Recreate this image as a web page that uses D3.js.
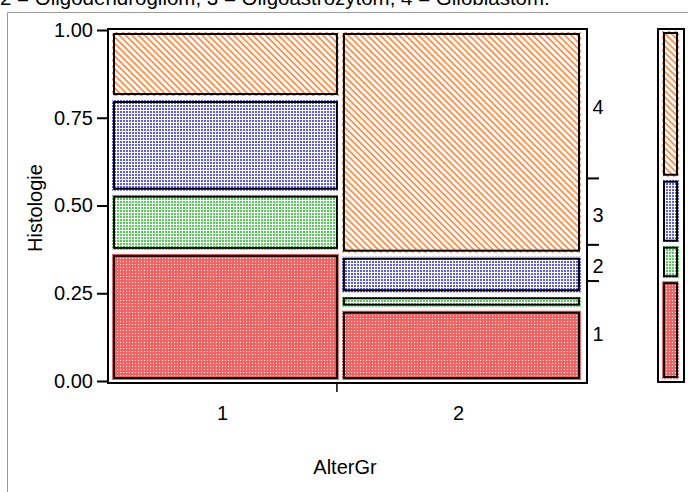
<!DOCTYPE html>
<html><head><meta charset="utf-8">
<script src="https://cdn.jsdelivr.net/npm/d3@7"></script>
<style>
body{margin:0;background:#fff}
svg{display:block}
text{font-family:"Liberation Sans",Arial,sans-serif;fill:#000}
</style>
</head><body>
<svg id="chart" width="688" height="492"></svg>
<script>
// Mosaic plot: Histologie within AlterGr (counts per cell)
const subtitle = "2 = Oligodendrogliom, 3 = Oligoastrozytom, 4 = Glioblastom.";
const ageGroups = ["1", "2"];
const histologyCodes = ["1", "2", "3", "4"];
const countsAge1 = [14, 6, 10, 7];
const countsAge2 = [8, 1, 4, 26];
const yTickValues = [0, 0.25, 0.5, 0.75, 1];
const xTitle = "AlterGr";
const yTitle = "Histologie";

const columns = [countsAge1, countsAge2];
// base colour under each fill pattern, and the pattern drawn over it
const baseColors = ["#f46262", "#ffffff", "#ffffff", "#ffffff"];
const patternIds = ["texRed", "texGreen", "texBlue", "texOrange"];
const FS = 20;

const svg = d3.select("#chart");

// ---- fill patterns (transparent background, drawn over the base colour) ----
const defs = svg.append("defs");
function dotPattern(id, size, fg, dots, dot) {
  const p = defs.append("pattern").attr("id", id).attr("patternUnits", "userSpaceOnUse")
    .attr("width", size).attr("height", size);
  dots.forEach(([x, y]) => p.append("rect").attr("x", x).attr("y", y)
    .attr("width", dot).attr("height", dot).attr("fill", fg));
}
dotPattern("texRed", 3, "#ffffff", [[0, 0]], 1);
dotPattern("texGreen", 3, "#4fd24f", [[0, 0]], 2);
dotPattern("texBlue", 3, "#5c5cf2", [[0, 0]], 2);
const po = defs.append("pattern").attr("id", "texOrange").attr("patternUnits", "userSpaceOnUse")
  .attr("width", 4.5).attr("height", 4.5).attr("patternTransform", "rotate(-45)");
po.append("rect").attr("width", 1.8).attr("height", 4.5).attr("fill", "#ff9048");

// ---- outer panel border ----
svg.append("path").attr("d", "M7.5,492 V12.5 H688").attr("fill", "none")
  .attr("stroke", "#9a9a9a").attr("stroke-width", 1);

// ---- subtitle (partly above the panel) ----
svg.append("text").attr("x", 0).attr("y", 5).attr("font-size", 20.5).text(subtitle);

// ---- geometry ----
const frame = {left: 108, right: 587, top: 29, bottom: 383};
const tileLeft = 113, tileRight = 580, tileTop = 33, tileBottom = 379;
const hGap = 5, vGap = 6;
const total = d3.sum(columns, c => d3.sum(c));
const colTotals = columns.map(c => d3.sum(c));

const xScale = d3.scaleLinear().domain([0, total]).range([tileLeft, tileRight - hGap * (columns.length - 1)]);
const yStack = d3.scaleLinear().domain([0, 1])
  .range([tileBottom, tileTop + vGap * (histologyCodes.length - 1)]);
const yAxisScale = d3.scaleLinear().domain([0, 1]).range([381, 30]);

// ---- tiles ----
const tiles = [];
let colStart = 0;
columns.forEach((counts, ci) => {
  const x0 = xScale(colStart) + ci * hGap;
  const x1 = xScale(colStart + colTotals[ci]) + ci * hGap;
  let cum = 0;
  counts.forEach((v, hi) => {
    const yb = yStack(cum / colTotals[ci]) - hi * vGap;
    cum += v;
    const yt = yStack(cum / colTotals[ci]) - hi * vGap;
    tiles.push({ci, hi, x0, x1, yt, yb});
  });
  colStart += colTotals[ci];
});

function drawTiles(g, data, inset) {
  g.selectAll("rect.base").data(data).join("rect").attr("class", "base")
    .attr("x", d => d.x0 - inset).attr("y", d => d.yt - inset)
    .attr("width", d => d.x1 - d.x0 + 2 * inset).attr("height", d => d.yb - d.yt + 2 * inset)
    .attr("fill", d => baseColors[d.hi]);
  g.selectAll("rect.tex").data(data).join("rect").attr("class", "tex")
    .attr("x", d => d.x0 - inset).attr("y", d => d.yt - inset)
    .attr("width", d => d.x1 - d.x0 + 2 * inset).attr("height", d => d.yb - d.yt + 2 * inset)
    .attr("fill", d => `url(#${patternIds[d.hi]})`);
  g.selectAll("rect.edge").data(data).join("rect").attr("class", "edge")
    .attr("x", d => d.x0 + 1).attr("y", d => d.yt + 1)
    .attr("width", d => d.x1 - d.x0 - 2).attr("height", d => d.yb - d.yt - 2)
    .attr("fill", "none").attr("stroke", "#000").attr("stroke-width", 2);
}
drawTiles(svg.append("g"), tiles, 1);

// ---- frame ----
svg.append("rect").attr("x", frame.left).attr("y", frame.top)
  .attr("width", frame.right - frame.left).attr("height", frame.bottom - frame.top)
  .attr("fill", "none").attr("stroke", "#000").attr("stroke-width", 2);

// ---- left axis ----
const yAxis = d3.axisLeft(yAxisScale).tickValues(yTickValues).tickFormat(d3.format(".2f"))
  .tickSize(11).tickPadding(4);
const gy = svg.append("g").attr("transform", `translate(${frame.left},0)`).call(yAxis);
gy.select(".domain").remove();
gy.selectAll(".tick line").attr("stroke", "#000").attr("stroke-width", 2);
gy.selectAll(".tick text").attr("font-size", FS).attr("font-family", "Liberation Sans, Arial, sans-serif").attr("fill", "#000");

svg.append("text").attr("transform", "translate(42,208) rotate(-90)")
  .attr("text-anchor", "middle").attr("font-size", FS).text(yTitle);

// ---- bottom axis: category labels and the boundary tick ----
const boundaryX = xScale(colTotals[0]) - 1;
svg.append("line").attr("x1", boundaryX).attr("x2", boundaryX)
  .attr("y1", frame.bottom).attr("y2", frame.bottom + 9)
  .attr("stroke", "#000").attr("stroke-width", 1.5);
const colCenters = [];
colStart = 0;
columns.forEach((c, ci) => {
  const x0 = xScale(colStart) + ci * hGap, x1 = xScale(colStart + colTotals[ci]) + ci * hGap;
  colCenters.push((x0 + x1) / 2 - 3);
  colStart += colTotals[ci];
});
svg.selectAll("text.xcat").data(ageGroups).join("text").attr("class", "xcat")
  .attr("x", (d, i) => colCenters[i]).attr("y", 420).attr("text-anchor", "middle")
  .attr("font-size", FS).text(d => d);
svg.append("text").attr("x", 345).attr("y", 474).attr("text-anchor", "middle")
  .attr("font-size", FS).text(xTitle);

// ---- right axis: marginal distribution of Histologie ----
const margins = histologyCodes.map((h, i) => d3.sum(columns, c => c[i]));
const margStack = d3.scaleLinear().domain([0, total])
  .range([tileBottom, tileTop + vGap * (histologyCodes.length - 1)]);
let mc = 0;
const margSegs = margins.map((v, i) => {
  const yb = margStack(mc) - i * vGap; mc += v;
  const yt = margStack(mc) - i * vGap;
  return {i, yb, yt};
});
const rightTicks = margSegs.slice(0, -1).map(s => s.yt - vGap / 2);
svg.selectAll("line.rtick").data(rightTicks).join("line").attr("class", "rtick")
  .attr("x1", frame.right).attr("x2", frame.right + 12)
  .attr("y1", d => d).attr("y2", d => d).attr("stroke", "#000").attr("stroke-width", 2);
const bounds = [381].concat(rightTicks).concat([30]);
svg.selectAll("text.rlab").data(histologyCodes).join("text").attr("class", "rlab")
  .attr("x", 598).attr("y", (d, i) => (bounds[i] + bounds[i + 1]) / 2 + 3)
  .attr("dy", "0.35em").attr("text-anchor", "middle").attr("font-size", FS).text(d => d);

// ---- marginal bar on the far right ----
const legBox = {left: 657, right: 685, top: 28, bottom: 383};
const legStack = d3.scaleLinear().domain([0, total]).range([378, 32 + 5 * (histologyCodes.length - 1)]);
let lc = 0;
const legSegs = margins.map((v, i) => {
  const yb = legStack(lc) - i * 5; lc += v;
  const yt = legStack(lc) - i * 5;
  return {hi: i, x0: 663, x1: 678, yb, yt};
});
drawTiles(svg.append("g"), legSegs, 1);
svg.append("rect").attr("x", legBox.left + 1).attr("y", legBox.top + 1)
  .attr("width", legBox.right - legBox.left - 2).attr("height", legBox.bottom - legBox.top - 2)
  .attr("fill", "none").attr("stroke", "#000").attr("stroke-width", 2);
</script>
</body></html>
